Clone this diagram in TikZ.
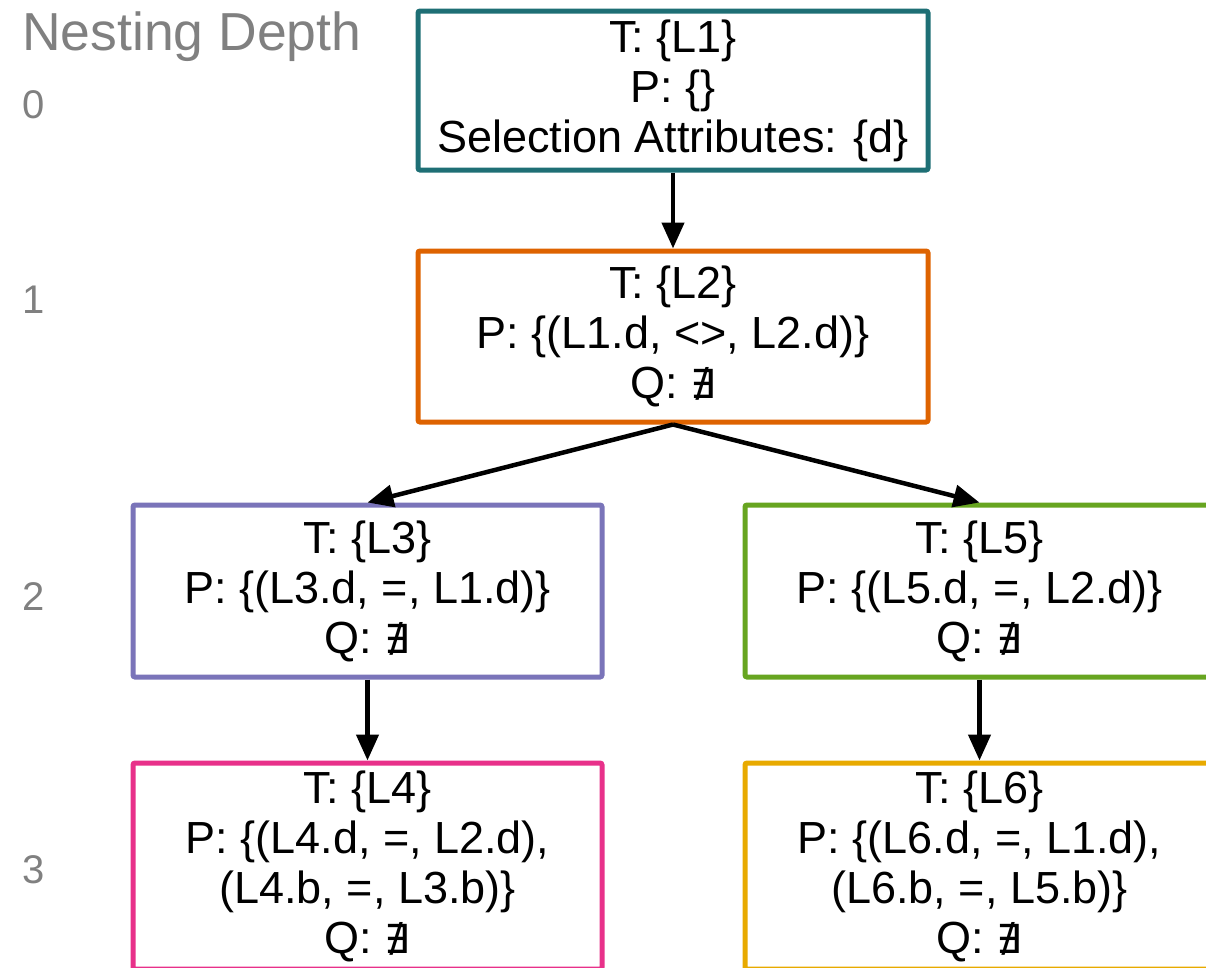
\documentclass[tikz,border=0pt]{standalone}
\usepackage{fontspec}
\setmainfont{Liberation Sans}
\newfontfamily\symfont{DejaVu Sans}
\usetikzlibrary{arrows.meta}

\definecolor{cteal}{HTML}{1E6F75}
\definecolor{corange}{HTML}{DE6300}
\definecolor{cpurple}{HTML}{7A74B9}
\definecolor{cgreen}{HTML}{67A520}
\definecolor{cpink}{HTML}{E8318A}
\definecolor{cyellow}{HTML}{E8AA00}
\definecolor{cgray}{HTML}{808080}

\newcommand{\nex}{{\symfont\fontsize{40}{50}\selectfont ∄}}

\tikzset{
  qbox/.style={draw=#1, line width=5pt, rounded corners=2pt, fill=white,
    align=center, inner sep=0pt, font=\fontsize{45}{50}\selectfont},
  arr/.style={line width=4.5pt, -{Triangle[length=26pt,width=22pt]}},
  depth/.style={anchor=west, text=cgray, inner sep=0pt, font=\fontsize{40}{48}\selectfont}
}

\begin{document}
\begin{tikzpicture}[x=1pt, y=-1pt]
  \useasboundingbox (0,0) rectangle (1206,967);
  \clip (0,0) rectangle (1206,967);

  % nesting depth labels
  \node[anchor=base west, text=cgray, inner sep=0pt, font=\fontsize{53.5}{60}\selectfont]
    (title) at (22,50) {Nesting Depth};
  \node[depth] (d0) at (22,105) {0};
  \node[depth] (d1) at (22,300) {1};
  \node[depth] (d2) at (22,597) {2};
  \node[depth] (d3) at (22,870) {3};

  % query blocks
  \node[qbox=cteal, minimum width=510pt, minimum height=159pt] (L1) at (673,90.5)
    {T: \{L1\}\\P: \{\}\\Selection Attributes: \{d\}};
  \node[qbox=corange, minimum width=510pt, minimum height=171pt] (L2) at (673,336.5)
    {T: \{L2\}\\P: \{(L1.d, <>, L2.d)\}\\Q: \nex};
  \node[qbox=cpurple, minimum width=469pt, minimum height=172pt] (L3) at (367.5,591)
    {T: \{L3\}\\P: \{(L3.d, =, L1.d)\}\\Q: \nex};
  \node[qbox=cgreen, minimum width=469pt, minimum height=172pt] (L5) at (979.5,591)
    {T: \{L5\}\\P: \{(L5.d, =, L2.d)\}\\Q: \nex};
  \node[qbox=cpink, minimum width=469pt, minimum height=206pt] (L4) at (367.5,866)
    {T: \{L4\}\\P: \{(L4.d, =, L2.d),\\(L4.b, =, L3.b)\}\\Q: \nex};
  \node[qbox=cyellow, minimum width=469pt, minimum height=206pt] (L6) at (979.5,866)
    {T: \{L6\}\\P: \{(L6.d, =, L1.d),\\(L6.b, =, L5.b)\}\\Q: \nex};

  % nesting edges
  \draw[arr] (L1.south) -- (L2.north);
  \draw[arr] (L2.south) -- (L3.north);
  \draw[arr] (L2.south) -- (L5.north);
  \draw[arr] (L3.south) -- (L4.north);
  \draw[arr] (L5.south) -- (L6.north);
\end{tikzpicture}
\end{document}
